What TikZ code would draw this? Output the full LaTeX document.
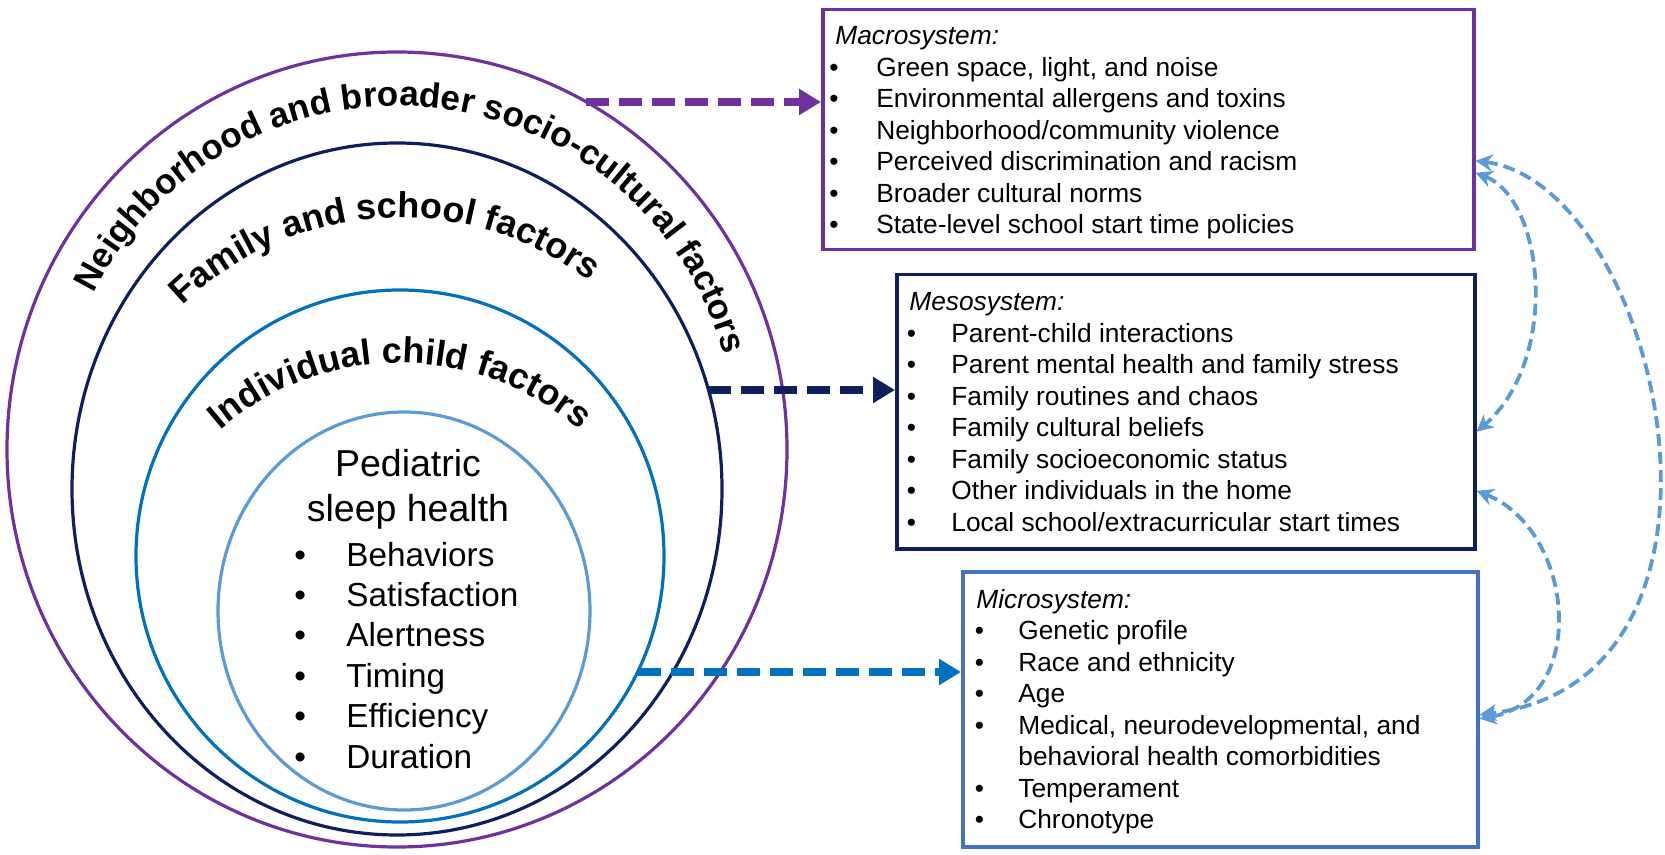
\documentclass[tikz,border=0pt]{standalone}
\usepackage{fontspec}
\setmainfont{Liberation Sans}
\usetikzlibrary{arrows.meta,decorations.text}
\definecolor{cpurple}{HTML}{7030A0}
\definecolor{cnavy}{HTML}{0E1F5E}
\definecolor{cblue}{HTML}{0070C0}
\definecolor{clight}{HTML}{5B9BD5}
\definecolor{cmicro}{HTML}{4472C4}
\newcommand{\arclabfont}{\fontsize{18}{21.6}\selectfont\bfseries}
\newcommand{\outerlabfont}{\fontsize{17.5}{21}\selectfont\bfseries}
\begin{document}
\begin{tikzpicture}[x=0.5pt,y=-0.5pt,
  ring/.style={line width=1.6pt},
  sysbox/.style={draw, line width=1.75pt, rectangle, inner sep=0pt, anchor=north west},
  boxtext/.style={anchor=west, inner sep=0pt, font=\fontsize{13.15}{15.75}\selectfont},
  bigarrow/.style={line width=4pt, dash pattern=on 11.5pt off 5pt, -{Triangle[length=11pt,width=12.5pt]}},
  link/.style={clight, line width=1.9pt, dash pattern=on 6pt off 3pt,
    {Stealth[length=8.5pt,width=8.5pt]}-{Stealth[length=8.5pt,width=8.5pt]}},
]
\useasboundingbox (0,0) rectangle (1665,855);

% nested ellipses
\draw[ring, cpurple] (397,449.5) ellipse [x radius=390, y radius=397.5];
\draw[ring, cnavy] (397,489) ellipse [x radius=325, y radius=346];
\draw[ring, cblue] (400,556) ellipse [x radius=264, y radius=266];
\draw[ring, clight] (404,611) ellipse [x radius=186, y radius=199];

% curved labels
\path[shift={(397,445)}, decorate, decoration={text along path, text align=center,
  text={|\outerlabfont|Neighborhood and broader socio-cultural factors}}]
  (-158.4:339) arc[start angle=-158.4, end angle=-10.4, radius=339];
\path[shift={(400,530)}, decorate, decoration={text along path, text align=center,
  text={|\arclabfont|Family and school factors}}]
  (-138.4:312.5) arc[start angle=-138.4, end angle=-48.4, radius=312.5];
\path[shift={(400,637)}, decorate, decoration={text along path, text align=center,
  text={|\arclabfont|Individual child factors}}]
  (-135:274) arc[start angle=-135, end angle=-45, radius=274];

% centre text
\node[font=\fontsize{18.75}{22.5}\selectfont, align=center, inner sep=0pt] (title) at (408,489.5) {Pediatric\\sleep health};
\node[anchor=west, inner sep=0pt, font=\fontsize{16.65}{20.2}\selectfont] (traits) at ([yshift=-1.5pt]294,656) {%
\begin{tabular}{@{}p{26pt}@{}l@{}}
• & Behaviors\\
• & Satisfaction\\
• & Alertness\\
• & Timing\\
• & Efficiency\\
• & Duration
\end{tabular}};

% system boxes
\node[sysbox, cpurple, minimum width=325.5pt, minimum height=120pt] (macro) at (821,8) {};
\node[sysbox, cnavy, minimum width=289pt, minimum height=137pt] (meso) at (895,273) {};
\node[sysbox, cmicro, minimum width=257.5pt, minimum height=137.5pt] (micro) at (961,570) {};

\node[boxtext] (macrotext) at ([xshift=4pt,yshift=-1.5pt]macro.west) {%
\begin{tabular}{@{}p{23.5pt}@{}l@{}}
\multicolumn{2}{@{}l@{}}{\hspace{3pt}\itshape Macrosystem:}\\
• & Green space, light, and noise\\
• & Environmental allergens and toxins\\
• & Neighborhood/community violence\\
• & Perceived discrimination and racism\\
• & Broader cultural norms\\
• & State-level school start time policies
\end{tabular}};

\node[boxtext] (mesotext) at ([xshift=5.75pt,yshift=-1.5pt]meso.west) {%
\begin{tabular}{@{}p{22.25pt}@{}l@{}}
\multicolumn{2}{@{}l@{}}{\hspace{1.25pt}\itshape Mesosystem:}\\
• & Parent-child interactions\\
• & Parent mental health and family stress\\
• & Family routines and chaos\\
• & Family cultural beliefs\\
• & Family socioeconomic status\\
• & Other individuals in the home\\
• & Local school/extracurricular start times
\end{tabular}};

\node[boxtext] (microtext) at ([xshift=6.75pt,yshift=-1.5pt]micro.west) {%
\begin{tabular}{@{}p{21.75pt}@{}l@{}}
\multicolumn{2}{@{}l@{}}{\hspace{0.75pt}\itshape Microsystem:}\\
• & Genetic profile\\
• & Race and ethnicity\\
• & Age\\
• & Medical, neurodevelopmental, and\\
  & behavioral health comorbidities\\
• & Temperament\\
• & Chronotype
\end{tabular}};

% straight dashed arrows
\coordinate (pstart) at (586,102);
\coordinate (nstart) at (708,390);
\coordinate (bstart) at (638,672);
\draw[bigarrow, cpurple] (pstart) -- (pstart -| macro.west);
\draw[bigarrow, cnavy] (nstart) -- (nstart -| meso.west);
\draw[bigarrow, cblue] (bstart) -- (bstart -| micro.west);

% curved links
\draw[link] ([yshift=-15.5pt]macro.east) .. controls (1660,185) and (1770,680) .. ([yshift=-2.75pt]micro.east);
\draw[link] ([yshift=-21.5pt]macro.east) .. controls (1545,200) and (1560,360) .. ([yshift=-10pt]meso.east);
\draw[link] ([yshift=-39.5pt]meso.east) .. controls (1575,530) and (1590,700) .. ([yshift=-4.75pt]micro.east);
\end{tikzpicture}
\end{document}
